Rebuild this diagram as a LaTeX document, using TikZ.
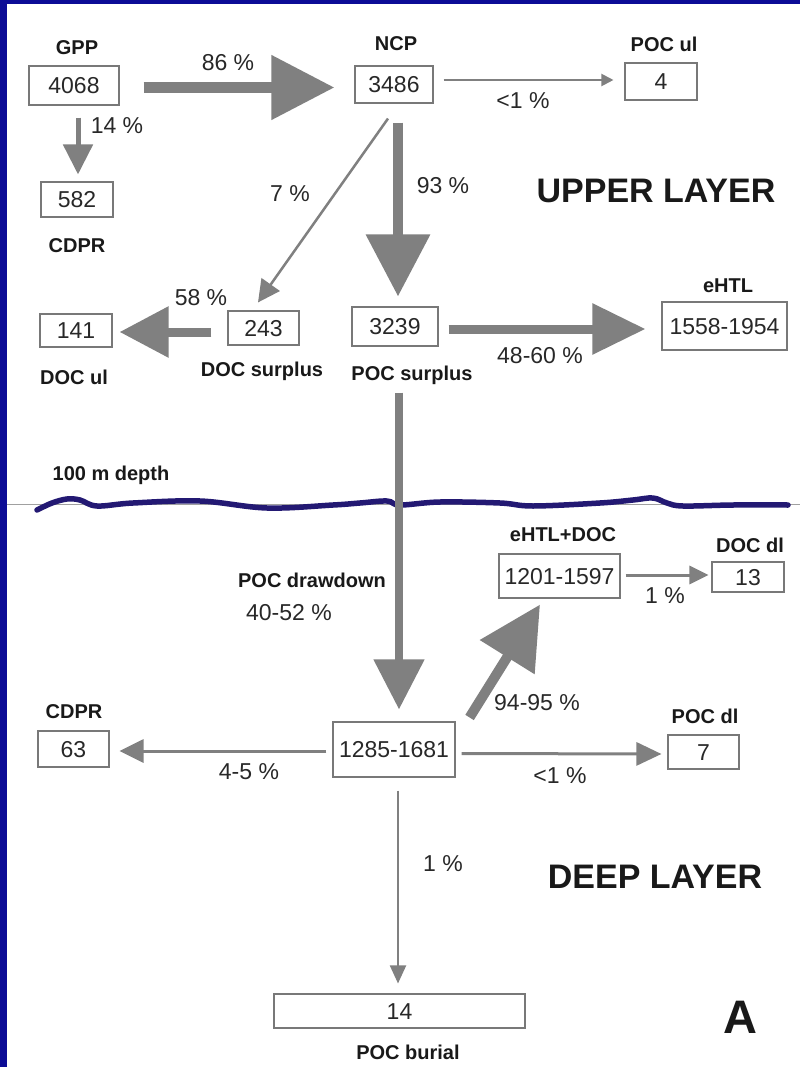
\documentclass[tikz,border=0pt]{standalone}
\usepackage{fontspec}
\setmainfont{Liberation Sans}
\usetikzlibrary{arrows.meta}
\definecolor{frameblue}{RGB}{12,12,150}
\definecolor{wavenavy}{RGB}{35,25,115}
\definecolor{arrowgray}{RGB}{128,128,128}
\definecolor{boxgray}{RGB}{120,120,120}
\definecolor{numtext}{RGB}{40,40,40}
\definecolor{depthgray}{RGB}{160,160,160}
\begin{document}
\begin{tikzpicture}[x=1pt,y=-1pt,
  box/.style={draw=boxgray, line width=1.1pt, fill=white, inner sep=0pt,
    text height=16.4pt, text depth=0pt, font=\fontsize{23}{25}\selectfont, text=numtext},
  lbl/.style={inner sep=0pt, text height=14.3pt, text depth=0pt,
    font=\bfseries\fontsize{20}{22}\selectfont, text=black!90},
  pct/.style={inner sep=0pt, text height=16.4pt, text depth=0pt,
    font=\fontsize{23}{25}\selectfont, text=numtext},
  title/.style={inner sep=0pt, text height=24pt, text depth=0pt,
    font=\bfseries\fontsize{34}{36}\selectfont, text=black!90},
  flow/.style={draw=arrowgray},
]
% canvas and frame
\useasboundingbox (0,0) rectangle (800,1067);
\fill[white] (0,0) rectangle (800,1067);
\fill[frameblue] (0,0) rectangle (7,1067);
\fill[frameblue] (0,0) rectangle (800,4);

% depth line and wave
\draw[depthgray, line width=1pt] (7,504) -- (800,504);
\draw[wavenavy, line width=5.5pt, line cap=round]
  plot[smooth, tension=0.6] coordinates {(37,510) (52,503) (67,499) (80,500) (97,506)
  (133,503) (200,501) (267,508) (333,505) (360,503) (387,501) (400,505) (440,502)
  (500,503) (533,506) (600,503) (633,500) (653,498) (667,503) (683,506) (733,505) (788,505)};

% boxes
\node[box, minimum width=90pt, minimum height=39pt] (gpp) at (74,85.5) {4068};
\node[box, minimum width=72pt, minimum height=35pt] (cdprA) at (77,199.5) {582};
\node[box, minimum width=78pt, minimum height=37pt] (ncp) at (394,84.5) {3486};
\node[box, minimum width=72pt, minimum height=37pt] (pocul) at (661,81.5) {4};
\node[box, minimum width=72pt, minimum height=33pt] (docul) at (76,330.5) {141};
\node[box, minimum width=71pt, minimum height=34pt] (docs) at (263.5,328) {243};
\node[box, minimum width=86pt, minimum height=39pt] (pocs) at (395,326.5) {3239};
\node[box, minimum width=125pt, minimum height=48pt] (ehtl) at (724.5,326) {1558-1954};
\node[box, minimum width=121pt, minimum height=44pt] (ehtldoc) at (559.5,576) {1201-1597};
\node[box, minimum width=72pt, minimum height=30pt] (docdl) at (748,577) {13};
\node[box, minimum width=71pt, minimum height=34pt] (pocdl) at (703.5,752) {7};
\node[box, minimum width=122pt, minimum height=55pt] (deep) at (394,749.5) {1285-1681};
\node[box, minimum width=71pt, minimum height=36pt] (cdprB) at (73.5,749) {63};
\node[box, minimum width=251pt, minimum height=34pt] (burial) at (399.5,1011) {14};

% arrows
\draw[flow, line width=11pt, -{Triangle[length=63pt,width=62pt]}, shorten <=24pt, shorten >=20pt]
  ([yshift=-2pt]gpp.east) -- ([yshift=-3pt]ncp.west);
\draw[flow, line width=5pt, -{Triangle[length=30pt,width=29pt]}, shorten <=12pt, shorten >=7pt]
  ([xshift=1pt]gpp.south -| cdprA.north) -- ([xshift=1pt]cdprA.north);
\draw[flow, line width=2pt, -{Triangle[length=12pt,width=12pt]}, shorten <=10pt, shorten >=11pt]
  ([yshift=1.5pt]ncp.east |- pocul.west) -- ([yshift=1.5pt]pocul.west);
\draw[flow, line width=2.5pt, -{Triangle[length=22pt,width=22pt]}]
  ([xshift=-6pt,yshift=-15pt]ncp.south) -- ([xshift=-5.5pt,yshift=8pt]docs.north);
\draw[flow, line width=10pt, -{Triangle[length=62pt,width=62pt]}, shorten <=19pt, shorten >=10pt]
  ([xshift=4pt]ncp.south) -- ([xshift=3pt]pocs.north);
\draw[flow, line width=9pt, -{Triangle[length=49pt,width=49pt]}, shorten <=16pt, shorten >=7pt]
  ([yshift=-4pt]docs.west) -- ([yshift=-1.5pt]docul.east);
\draw[flow, line width=9pt, -{Triangle[length=53pt,width=49pt]}, shorten <=10pt, shorten >=16pt]
  ([yshift=-2.5pt]pocs.east) -- ([yshift=-3pt]ehtl.west);
\draw[flow, line width=8pt, -{Triangle[length=50pt,width=49pt]}, shorten <=46pt, shorten >=12pt]
  ([xshift=4pt]pocs.south) -- ([xshift=5pt]deep.north);
\draw[flow, line width=10pt, -{Triangle[length=62pt,width=62pt]}]
  ([xshift=14pt,yshift=4pt]deep.north east) -- ([xshift=-19.5pt,yshift=-6pt]ehtldoc.south);
\draw[flow, line width=3pt, -{Triangle[length=19pt,width=18pt]}, shorten <=5pt, shorten >=3pt]
  ([yshift=1pt]ehtldoc.east) -- ([yshift=2pt]docdl.west);
\draw[flow, line width=3pt, -{Triangle[length=25pt,width=23pt]}, shorten <=6pt, shorten >=6pt]
  ([yshift=-4pt]deep.east) -- ([yshift=-2pt]pocdl.west);
\draw[flow, line width=3pt, -{Triangle[length=24pt,width=23pt]}, shorten <=6pt, shorten >=10pt]
  ([yshift=-1.5pt]deep.west) -- ([yshift=-2pt]cdprB.east);
\draw[flow, line width=2pt, -{Triangle[length=18pt,width=16pt]}, shorten <=13pt, shorten >=10pt]
  ([xshift=4pt]deep.south) -- ([xshift=-1.5pt]burial.north);

% bold labels
\node[lbl] (lgpp) at (77,47) {GPP};
\node[lbl] (lncp) at (396,43) {NCP};
\node[lbl] (lpocul) at (664,44) {POC ul};
\node[lbl] (lcdprA) at (77,245) {CDPR};
\node[lbl] (ldocul) at (74,377) {DOC ul};
\node[lbl] (ldocs) at (262,369) {DOC surplus};
\node[lbl] (lpocs) at (412,373) {POC surplus};
\node[lbl] (lehtl) at (728,285) {eHTL};
\node[lbl] (ldepth) at (111,473) {100 m depth};
\node[lbl] (lehtldoc) at (563,534) {eHTL+DOC};
\node[lbl] (ldocdl) at (750,545) {DOC dl};
\node[lbl] (ldraw) at (312,580) {POC drawdown};
\node[lbl] (lcdprB) at (74,711) {CDPR};
\node[lbl] (lpocdl) at (705,716) {POC dl};
\node[lbl] (lburial) at (408,1052) {POC burial};

% titles
\node[title] (tup) at (656,191) {UPPER LAYER};
\node[title] (tdeep) at (655,876) {DEEP LAYER};
\node[inner sep=0pt, text height=33pt, text depth=0pt, font=\bfseries\fontsize{47}{50}\selectfont, text=black!90] (tA) at (740,1017) {A};

% percentages
\node[pct] (p86) at (228,62) {86 \%};
\node[pct] (p14) at (117,125) {14 \%};
\node[pct] (p1a) at (523,100) {<1 \%};
\node[pct] (p7) at (290,193) {7 \%};
\node[pct] (p93) at (443,185) {93 \%};
\node[pct] (p58) at (201,297) {58 \%};
\node[pct] (p4860) at (540,355) {48-60 \%};
\node[pct] (p4052) at (289,612) {40-52 \%};
\node[pct] (p9495) at (537,702) {94-95 \%};
\node[pct] (p1b) at (665,595) {1 \%};
\node[pct] (p1c) at (560,775) {<1 \%};
\node[pct] (p45) at (249,771) {4-5 \%};
\node[pct] (p1d) at (443,863) {1 \%};
\end{tikzpicture}
\end{document}
